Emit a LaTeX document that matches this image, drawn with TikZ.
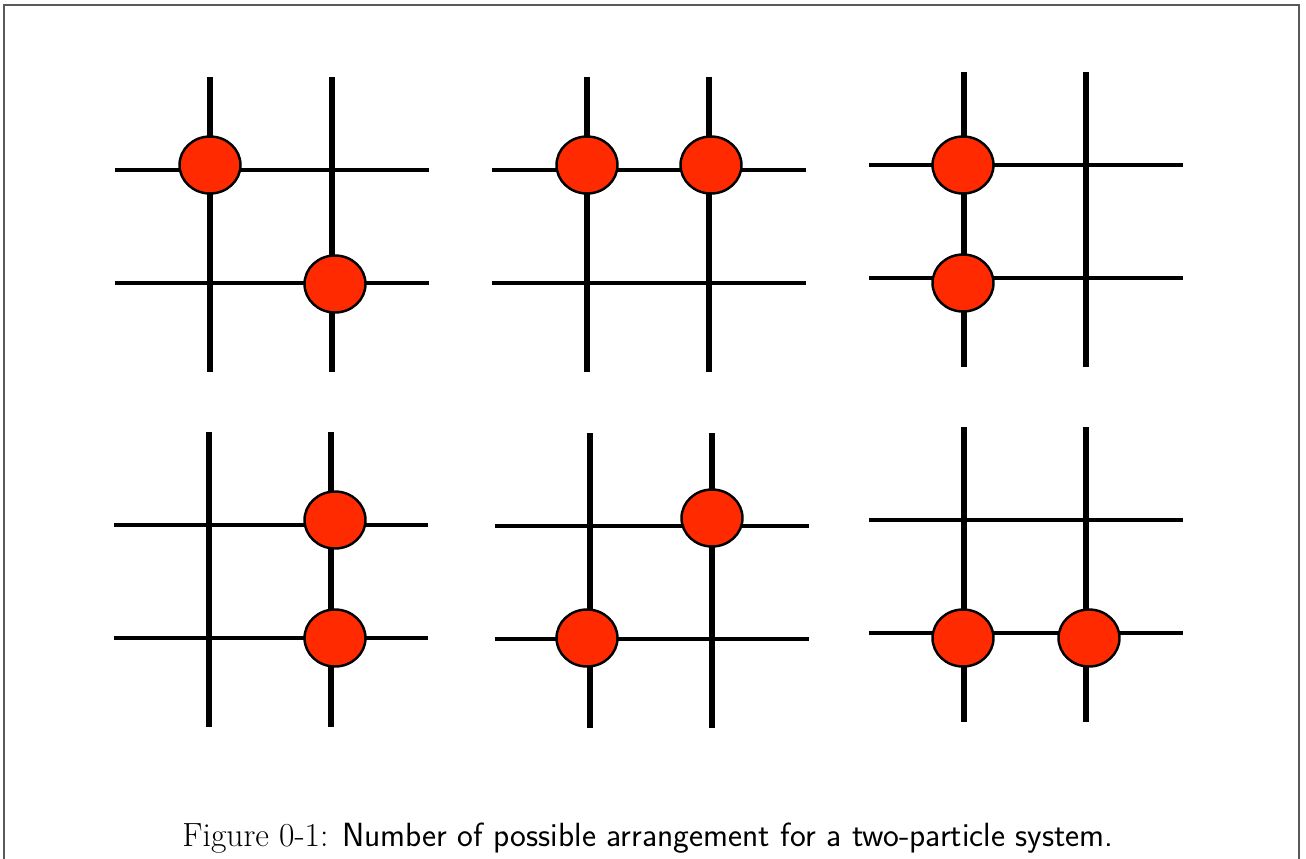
\documentclass[tikz,border=0pt]{standalone}
\usetikzlibrary{shapes.geometric}

\definecolor{particlered}{RGB}{255,42,0}
\tikzset{
  rod/.style={line width=3pt},
  wire/.style={line width=1.9pt},
  particle/.style={ellipse,draw,line width=1.4pt,fill=particlered,
    minimum width=1.22cm,minimum height=1.14cm,inner sep=0pt}
}
% one 2x2 lattice, origin at the upper left crossing
\newcommand{\lattice}[2]{%
  \begin{scope}[shift={(#1,#2)}]
    \draw[rod] (0,-93) -- (0,202);
    \draw[rod] (122,-93) -- (122,202);
    \draw[wire] (-95,0) -- (219,0);
    \draw[wire] (-95,113) -- (219,113);
  \end{scope}}

\begin{document}
\begin{tikzpicture}[x=0.02cm,y=-0.02cm]
\useasboundingbox (0,0) rectangle (1306,859);
\draw[black!65,line width=0.6pt] (4,880) |- (1299,5) -- (1299,880);

\lattice{210}{170}
\lattice{587}{170}
\lattice{964}{165}
\lattice{209}{525}
\lattice{590}{526}
\lattice{964}{520}

\node[particle] (a1) at (210,165) {};
\node[particle] (a2) at (335,284) {};
\node[particle] (b1) at (587,165) {};
\node[particle] (b2) at (711,165) {};
\node[particle] (c1) at (963,165) {};
\node[particle] (c2) at (963,283) {};
\node[particle] (d1) at (335,520) {};
\node[particle] (d2) at (335,638) {};
\node[particle] (e1) at (712,518) {};
\node[particle] (e2) at (587,638) {};
\node[particle] (f1) at (963,638) {};
\node[particle] (f2) at (1089,638) {};

\node[anchor=base] (caption) at (648,846)
  {\fontsize{19.1}{22}\selectfont Figure 0-1: {\sffamily Number of possible arrangement for a two-particle system.}};
\end{tikzpicture}
\end{document}
